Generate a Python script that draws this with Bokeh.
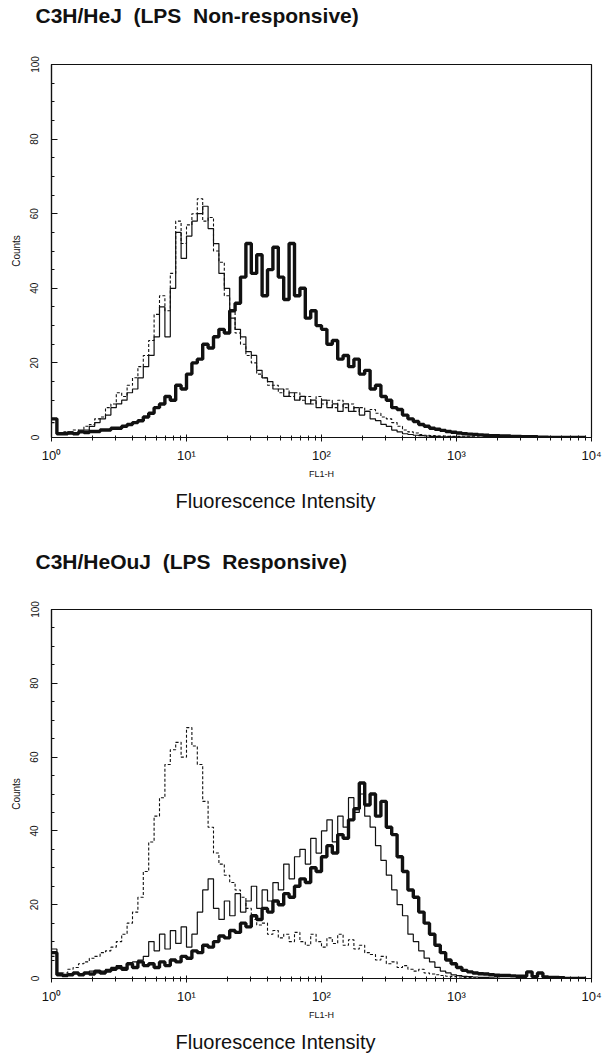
import numpy as np
from bokeh.plotting import figure
from bokeh.models import Range1d, FixedTicker, Title
from bokeh.layouts import column
from bokeh.embed import file_html
from bokeh.resources import INLINE

# histogram channels: log10(FL1-H) at the left edge of each bin (0.04 decade wide)
log_channel = [round(0.04 * i, 2) for i in range(100)]

# ---- C3H/HeJ (LPS non-responsive) ----
hej_dashed = [4, 1, 1.5, 1, 2, 1.5, 3, 3.5, 5, 5.5,
              8, 9, 12, 11, 14, 16, 19, 22, 26, 33,
              38, 34, 44, 58, 52, 57, 60, 64, 58, 59,
              50, 47, 38, 34, 28, 25, 22, 20, 17, 16,
              14, 14, 12, 13, 11, 12, 10, 11, 9, 11,
              9, 10, 8, 10, 8, 9, 7, 8, 7, 7.5,
              6.5, 5.5, 5, 4, 3, 2, 1.5, 1.2, 0.8, 0.6,
              0.5, 0.4, 0.4, 0.3, 0.3, 0.3, 0.2, 0.2, 0.2, 0.1,
              0.1, 0.1, 0, 0, 0, 0, 0, 0, 0, 0,
              0, 0, 0, 0, 0, 0, 0, 0, 0, 0]
hej_thin = [5, 1, 1, 1.5, 1, 2, 2, 3, 4, 5,
            6, 8, 9, 10, 12, 13, 16, 19, 22, 27,
            35, 27, 40, 55, 48, 54, 58, 60, 62, 56,
            52, 44, 40, 32, 29, 27, 23, 22, 18, 16,
            15, 13, 13, 11, 12, 10, 11, 9, 10, 8,
            10, 8, 9, 7, 9, 7, 8, 6, 7, 5,
            4.5, 3.5, 3, 2, 1.5, 1, 0.8, 0.6, 0.5, 0.4,
            0.3, 0.3, 0.2, 0.2, 0.2, 0.1, 0.1, 0.1, 0, 0,
            0, 0, 0, 0, 0, 0, 0, 0, 0, 0,
            0, 0, 0, 0, 0, 0, 0, 0, 0, 0]
hej_thick = [5, 1, 1, 1.2, 1, 1.5, 1.3, 1.6, 1.6, 2,
             2, 2.5, 2.5, 3, 3.5, 4, 4.5, 5.5, 6.5, 8,
             9, 11, 10, 14, 13, 17, 20, 21, 25, 24,
             27, 29, 28, 34, 36, 43, 52, 44, 49, 38,
             45, 51, 43, 37, 52, 38, 40, 32, 34, 30,
             29, 25, 26, 21, 22, 19, 21, 17, 18, 13,
             14, 11, 10, 8, 7.5, 6, 5, 4.3, 3.5, 3,
             2.5, 2.2, 1.9, 1.6, 1.4, 1.2, 1, 0.9, 0.8, 0.7,
             0.6, 0.5, 0.5, 0.4, 0.4, 0.3, 0.3, 0.2, 0.2, 0.2,
             0.1, 0.1, 0, 0, 0, 0, 0, 0, 0, 0]

# ---- C3H/HeOuJ (LPS responsive) ----
heouj_dashed = [6, 1, 1.5, 2.5, 3, 4, 4.5, 5.5, 6, 7,
                7.5, 8.5, 10, 12, 15, 18, 22, 29, 37, 44,
                49, 58, 62, 64, 60, 68, 63, 58, 48, 41,
                34, 31, 28, 26, 24, 22, 19, 16, 14.5, 15,
                12, 13, 11, 12, 10, 12.5, 10, 9, 12, 10,
                8.5, 11, 9.5, 12, 9, 10.5, 8, 9, 7, 6.5,
                5, 6, 4, 4.5, 3, 3.5, 2.5, 2, 2.5, 1.5,
                1.2, 1, 0.8, 0.6, 0.5, 0.4, 0.3, 0.3, 0.2, 0.1,
                0, 0, 0, 0, 0, 0, 0, 0, 0, 0,
                0, 0, 0, 0, 0, 0, 0, 0, 0, 0]
heouj_thin = [8, 1.5, 1, 1, 1.5, 1, 1.5, 2, 1.5, 2,
              2.5, 3, 3.5, 3, 4, 4.5, 5, 6, 10, 7.5,
              12, 8, 13, 9.5, 14, 8.5, 12, 18, 24, 27,
              19, 16, 21, 17, 23, 18, 21, 25, 19, 24,
              21, 26, 24, 31, 27, 33, 35, 31, 38, 34,
              40, 43, 37, 44, 41, 49, 45, 50, 44, 41,
              36, 32, 28, 24, 20, 17, 12, 10, 7.5, 5.5,
              4.5, 3, 2, 1.5, 1, 0.8, 0.6, 0.5, 0.4, 0.3,
              0.3, 0.2, 0.1, 0, 0, 0, 0, 0, 0, 0,
              0, 0, 0, 0, 0, 0, 0, 0, 0, 0]
heouj_thick = [7, 1, 0.8, 1, 1.5, 1, 1.5, 1.2, 2, 1.5,
               2, 2.5, 3, 2.5, 4, 3, 4.5, 3.5, 4, 3,
               4.5, 3.5, 5, 4.5, 6, 5.5, 7.5, 7, 9, 8.5,
               10, 11.5, 11, 13, 12.5, 15, 14, 17, 16, 19,
               18, 21, 20, 23, 22, 25, 27, 26, 30, 29,
               33, 36, 34, 39, 38, 43, 46, 53, 47, 50,
               44, 48, 41, 39, 33, 29, 24, 22, 18, 15,
               12, 9, 7, 5, 4, 3, 2.2, 1.8, 1.5, 1.3,
               1.2, 1, 0.9, 0.8, 0.8, 0.7, 0.6, 0.6, 1.8, 0.5,
               1.5, 0.4, 0.3, 0.3, 0.2, 0, 0, 0, 0, 0]

x_ticks = [1, 10, 100, 1000, 10000]
x_tick_labels = ["10\u2070", "10\u00b9", "10\u00b2", "10\u00b3", "10\u2074"]
y_ticks = [0, 20, 40, 60, 80, 100]

FONT = "Liberation Sans"
INK = "#111111"
GAP = "\u00a0\u00a0"


def panel(title, dashed, thin, thick, height, top, bottom, spacer):
    p = figure(width=604, height=height, x_axis_type="log",
               x_range=Range1d(1, 10000), y_range=Range1d(0, 100),
               output_backend="svg", toolbar_location=None, tools="",
               min_border_left=51, min_border_right=13,
               min_border_top=top, min_border_bottom=bottom)
    p.background_fill_color = "white"
    p.border_fill_color = "white"
    p.outline_line_color = INK
    p.outline_line_width = 1.2
    p.xgrid.visible = False
    p.ygrid.visible = False

    xs = [10 ** v for v in log_channel]
    p.step(xs, dashed, mode="after", line_color=INK, line_width=1.1, line_dash="3 2")
    p.step(xs, thin, mode="after", line_color=INK, line_width=1.2)
    p.step(xs, thick, mode="after", line_color=INK, line_width=3.4)

    minor = [m * 10 ** d for d in range(4) for m in range(2, 10)]
    xa = p.xaxis[0]
    xa.ticker = FixedTicker(ticks=x_ticks, minor_ticks=minor)
    xa.major_label_overrides = {t: lab for t, lab in zip(x_ticks, x_tick_labels)}
    xa.major_tick_in = 3
    xa.major_tick_out = 4
    xa.minor_tick_in = 2
    xa.minor_tick_out = 3
    xa.major_label_standoff = 6
    xa.major_label_text_font = FONT
    xa.major_label_text_font_size = "13px"
    xa.major_label_text_color = INK
    xa.axis_label = "FL1-H"
    xa.axis_label_text_font = FONT
    xa.axis_label_text_font_size = "9px"
    xa.axis_label_text_font_style = "normal"
    xa.axis_label_text_color = INK
    xa.axis_label_standoff = 3
    xa.axis_line_color = INK
    xa.axis_line_width = 1.2
    xa.major_tick_line_color = INK
    xa.minor_tick_line_color = INK

    ya = p.yaxis[0]
    ya.ticker = FixedTicker(ticks=y_ticks, minor_ticks=list(range(0, 101, 5)))
    ya.major_tick_in = 6
    ya.major_tick_out = 0
    ya.minor_tick_in = 3
    ya.minor_tick_out = 0
    ya.major_label_orientation = "vertical"
    ya.major_label_standoff = 13
    ya.major_label_text_font = FONT
    ya.major_label_text_font_size = "10px"
    ya.major_label_text_color = INK
    ya.axis_label = "Counts"
    ya.axis_label_text_font = FONT
    ya.axis_label_text_font_size = "10px"
    ya.axis_label_text_font_style = "normal"
    ya.axis_label_text_color = INK
    ya.axis_label_standoff = 6
    ya.axis_line_color = INK
    ya.axis_line_width = 1.2
    ya.major_tick_line_color = INK
    ya.minor_tick_line_color = INK

    # blank spacer between the plot frame and the panel title
    p.add_layout(Title(text="\u00a0", text_font=FONT, text_font_size="1px",
                       standoff=spacer, text_color="white"), "above")

    p.title.text = title
    p.title.align = "left"
    p.title.vertical_align = "top"
    p.title.offset = -16
    p.title.standoff = 0
    p.title.text_font = FONT
    p.title.text_font_size = "21px"
    p.title.text_font_style = "bold"
    p.title.text_color = INK

    p.add_layout(Title(text="Fluorescence Intensity", align="left", offset=124,
                       standoff=12, text_font=FONT, text_font_size="20px",
                       text_font_style="normal", text_color=INK), "below")
    return p


p1 = panel("C3H/HeJ" + GAP + "(LPS" + GAP + "Non-responsive)",
           hej_dashed, hej_thin, hej_thick, height=522, top=64, bottom=85, spacer=33)
p2 = panel("C3H/HeOuJ" + GAP + "(LPS" + GAP + "Responsive)",
           heouj_dashed, heouj_thin, heouj_thick, height=536, top=87, bottom=77, spacer=32)

layout = column(p1, p2, spacing=0)
open("out.html", "w").write(file_html(layout, INLINE))
